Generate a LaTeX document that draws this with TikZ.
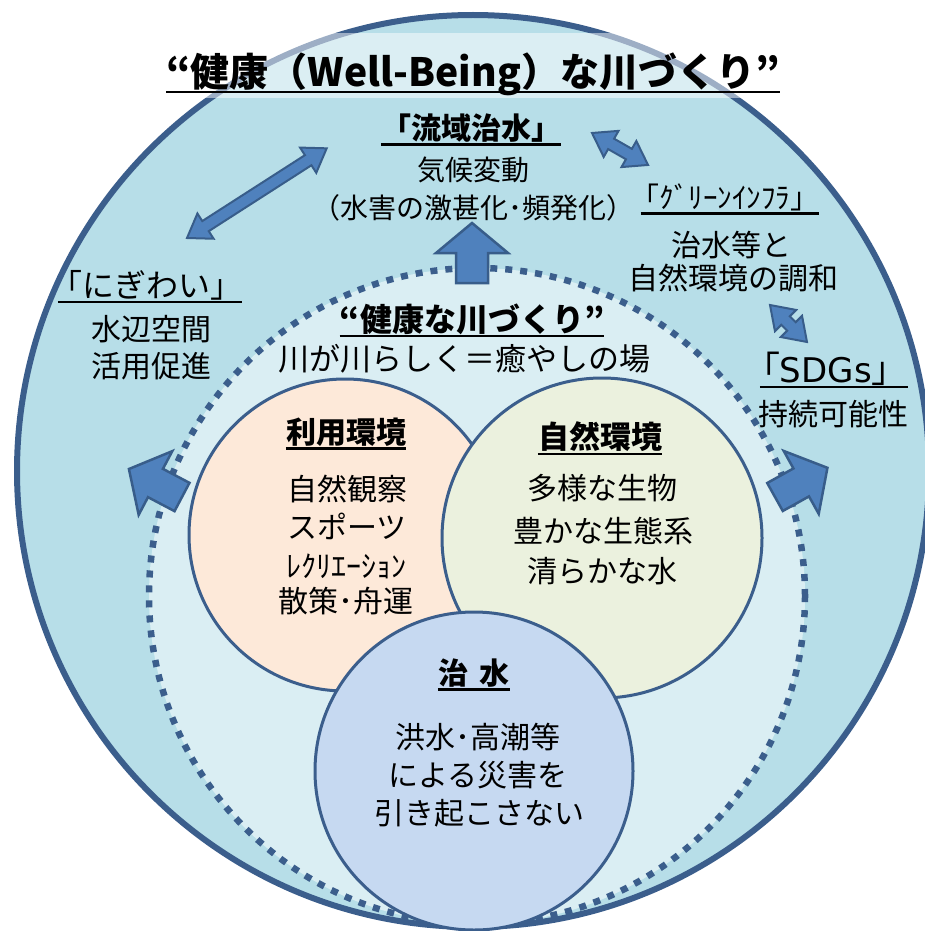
\documentclass[tikz,border=0pt]{standalone}
\usepackage{fontspec}
\setmainfont{Noto Sans CJK JP}
\newfontfamily\latinwide{DejaVu Sans}
\usetikzlibrary{calc}
\definecolor{outerfill}{HTML}{B7DEE8}
\definecolor{innerfill}{HTML}{DAEEF3}
\definecolor{edgeblue}{HTML}{3B5E8C}
\definecolor{arrfill}{HTML}{4F81BD}
\definecolor{arredge}{HTML}{385D8A}
\definecolor{peach}{HTML}{FDE9D9}
\definecolor{sage}{HTML}{EBF1DE}
\definecolor{paleblue}{HTML}{C6D9F1}
\newcommand{\fsz}[1]{\fontsize{#1}{#1}\selectfont}
\newcommand{\blockarrow}[3]{%
  \begin{scope}[shift={(#1,#2)}, rotate=#3]
    \draw[bigarrow] (0,-16) -- (30,-16) -- (30,-36) -- (60,0) -- (30,36) -- (30,16) -- (0,16) -- cycle;
  \end{scope}}
\newcommand{\dblarrow}[4]{%
  \begin{scope}[shift={(#1,#2)}, rotate=#3]
    \draw[smallarrow] (0,0) -- (22,15) -- (22,6) -- ({#4-22},6) -- ({#4-22},15) -- (#4,0)
      -- ({#4-22},-15) -- ({#4-22},-6) -- (22,-6) -- (22,-15) -- cycle;
  \end{scope}}
\newcommand{\ul}[1]{\draw[uline] ([yshift=-5pt]#1.base west) -- ([yshift=-5pt]#1.base east);}
\newcommand{\lbr}[1]{\hspace{-#1em}「}
\newcommand{\rbr}[1]{」\hspace{-#1em}}
\begin{document}
\begin{tikzpicture}[x=1pt,y=1pt,
  txt/.style={inner sep=0pt, anchor=base, font=\fsz{30}},
  btxt/.style={inner sep=0pt, anchor=base, font=\fsz{30}\bfseries},
  uline/.style={line width=2.2pt, black},
  bigarrow/.style={fill=arrfill, draw=arredge, line width=2.5pt, line join=miter},
  smallarrow/.style={fill=arrfill, draw=arredge, line width=2pt, line join=miter},
  ring/.style={draw=edgeblue, line width=3pt}]
\useasboundingbox (0,0) rectangle (925,-931);
% outer circle
\draw[fill=outerfill, draw=edgeblue, line width=6pt] (473,-471) circle[radius=456];
% title band
\fill[white, opacity=0.5] (15,-33) rectangle (910,-98);
% inner dotted circle
\fill[innerfill] (477,-596) circle[radius=328];
\draw[edgeblue, line width=6.5pt, dash pattern=on 7pt off 8pt] (477,-596) circle[radius=328];
% radial block arrows
\blockarrow{472}{-283}{90}
\blockarrow{182}{-497}{152.2}
\blockarrow{775}{-497}{29.1}
% three circles
\node[ring, fill=peach, circle, minimum size=312pt] (riyoC) at (345,-535) {};
\node[ring, fill=sage, circle, minimum size=320pt] (shizenC) at (602,-538) {};
\node[ring, fill=paleblue, circle, minimum size=318pt] (chisuiC) at (474,-771) {};
% double arrows
\dblarrow{187}{-238}{32.7}{166}
\dblarrow{592}{-133}{-29.7}{64.5}
\dblarrow{770}{-305}{-45}{52.3}
% texts
\node[btxt, font=\fsz{39}\bfseries] (title) at (473,-87) {“健康（Well-Being）な川づくり”};
\ul{title}
\node[btxt] (ryuiki) at (471,-139.5) {「流域治水」};
\ul{ryuiki}
\node[txt, font=\fsz{28}] (kikou) at (473,-180.6) {気候変動};
\node[txt, font=\fsz{28}] (suigai) at (473,-218.6) {（水害の激甚化･頻発化）};
\node[txt, font=\fsz{29}] (green) at (730,-208.5) {\lbr{0.35}ｸﾞﾘｰﾝｲﾝﾌﾗ\rbr{0.35}};
\ul{green}
\node[txt] (gr1) at (731,-256.4) {治水等と};
\node[txt] (gr2) at (733,-289.4) {自然環境の調和};
\node[txt, font=\fsz{36}] (sdgs) at (834,-382) {\lbr{0.45}{\latinwide\fsz{34}SDGs}\rbr{0.45}};
\ul{sdgs}
\node[txt] (sd1) at (833,-425.4) {持続可能性};
\node[txt, font=\fsz{32}] (nigiwai) at (150,-297) {\lbr{0.25}にぎわい\rbr{0.25}};
\ul{nigiwai}
\node[txt] (ni1) at (151,-340.4) {水辺空間};
\node[txt] (ni2) at (151,-377.4) {活用促進};
\node[btxt, font=\fsz{32}\bfseries] (kenko) at (472,-331) {“健康な川づくり”};
\ul{kenko}
\node[txt, font=\fsz{31}] (kawa) at (464,-370.8) {川が川らしく＝癒やしの場};
\node[btxt] (riyo) at (346,-443.4) {利用環境};
\ul{riyo}
\node[txt] (r1) at (347,-500.4) {自然観察};
\node[txt] (r2) at (347,-538.4) {スポーツ};
\node[txt] (r3) at (346,-577.4) {ﾚｸﾘｴｰｼｮﾝ};
\node[txt] (r4) at (346,-612.4) {散策･舟運};
\node[btxt, font=\fsz{31}\bfseries] (shizen) at (600,-448.8) {自然環境};
\ul{shizen}
\node[txt] (s1) at (602,-499.4) {多様な生物};
\node[txt] (s2) at (603,-542.4) {豊かな生態系};
\node[txt] (s3) at (602,-582.4) {清らかな水};
\node[btxt] (chisui) at (474,-684.4) {治\hspace{0.4em}水};
\ul{chisui}
\node[txt] (c1) at (478,-748.4) {洪水･高潮等};
\node[txt] (c2) at (478,-786.4) {による災害を};
\node[txt] (c3) at (479,-824.4) {引き起こさない};
\end{tikzpicture}
\end{document}
